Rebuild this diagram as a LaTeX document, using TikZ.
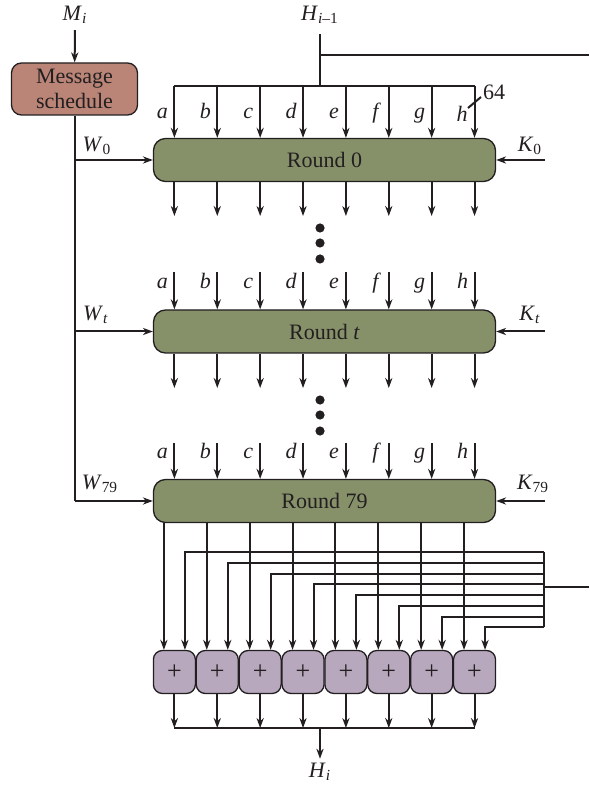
\documentclass[tikz,border=0pt]{standalone}
\usepackage{fontspec}
\setmainfont{Liberation Serif}
\usetikzlibrary{arrows.meta, positioning, calc}
\definecolor{schedfill}{RGB}{186,133,119}
\definecolor{roundfill}{RGB}{134,145,106}
\definecolor{addfill}{RGB}{183,168,189}
\definecolor{ink}{RGB}{35,31,32}
\newcommand{\vname}[2]{\textit{#1}\textsubscript{#2}}

\begin{document}
\begin{tikzpicture}[
        x=0.5pt, y=-0.5pt, ink, font=\fontsize{11}{12.5}\selectfont,
        schedule/.style={rectangle, rounded corners=5pt, draw, fill=schedfill, line width=0.65pt,
                         minimum width=63pt, minimum height=26pt, align=center, inner sep=0pt},
        roundbox/.style={rectangle, rounded corners=6pt, draw, fill=roundfill, line width=0.65pt,
                         minimum width=171pt, minimum height=21.5pt},
        adder/.style={rectangle, rounded corners=4.5pt, draw, fill=addfill, line width=0.65pt,
                      minimum width=21pt, minimum height=21.5pt, font=\fontsize{13}{14}\selectfont},
        wire/.style={line width=1pt},
        arrow/.style={wire, -{Stealth[length=5pt, width=3.6pt]}},
        lbl/.style={inner sep=0pt},
        dot/.style={circle, fill, inner sep=0pt, minimum size=4.6pt}
    ]
        \useasboundingbox (0,0) rectangle (589,785);

        % message schedule
        \node[lbl] (mi) at (75,15) {\vname{M}{\textit{i}}};
        \node[schedule] (ms) at (74.5,89) {Message\\schedule};
        \draw[arrow, shorten <=3pt] (mi) -- (ms);

        % rounds
        \node[roundbox] (r0) at (324.5,160) {Round 0};
        \node[roundbox] (rt) at (324.5,331.5) {Round \textit{t}};
        \node[roundbox] (r79) at (324.5,501) {Round 79};

        % words W_t
        \draw[wire] (ms.south) -- (ms.south |- r79.west);
        \draw[arrow] (ms.south |- r0.west) -- (r0.west);
        \draw[arrow] (ms.south |- rt.west) -- (rt.west);
        \draw[arrow] (ms.south |- r79.west) -- (r79.west);
        \node[lbl] (w0) at (97,146) {\vname{W}{0}};
        \node[lbl] (wt) at (96,315) {\vname{W}{\textit{t}}};
        \node[lbl] (w79) at (100,484) {\vname{W}{79}};

        % constants K_t
        \draw[arrow] ($(r0.east)+(49,0)$) -- (r0.east);
        \draw[arrow] ($(rt.east)+(49,0)$) -- (rt.east);
        \draw[arrow] ($(r79.east)+(49,0)$) -- (r79.east);
        \node[lbl] (k0) at (530,146) {\vname{K}{0}};
        \node[lbl] (kt) at (530,315) {\vname{K}{\textit{t}}};
        \node[lbl] (k79) at (533,484) {\vname{K}{79}};

        % chaining value in
        \node[lbl] (hin) at (320,15) {\vname{H}{\textit{i}\textup{--1}}};
        \coordinate (hsplit) at (320,55);
        \coordinate (hright) at (589,55);
        \coordinate (hbus) at (320,86);
        \draw[wire, shorten <=5pt] (hin) -- (hbus);
        \draw[wire] (hsplit) -- (hright);

        % adders
        \foreach \k in {1,...,8}{
            \pgfmathsetmacro{\cx}{174.4+42.875*(\k-1)}
            \node[adder] (add-\k) at (\cx,672) {+};
        }

        \foreach \k/\ch in {1/a,2/b,3/c,4/d,5/e,6/f,7/g,8/h}{
            \pgfmathsetmacro{\cx}{174.4+42.875*(\k-1)}
            % round 0
            \coordinate (bus-\k) at (\cx,86);
            \coordinate (o0-\k) at (\cx,216);
            \draw[arrow] (bus-\k) -- (bus-\k |- r0.north);
            \draw[arrow] (o0-\k |- r0.south) -- (o0-\k);
            % round t
            \coordinate (it-\k) at (\cx,272);
            \coordinate (ot-\k) at (\cx,388);
            \draw[arrow] (it-\k) -- (it-\k |- rt.north);
            \draw[arrow] (ot-\k |- rt.south) -- (ot-\k);
            \node[lbl, anchor=base] (lt-\k) at (\cx-12,289) {\textit{\ch}};
            % round 79
            \coordinate (i79-\k) at (\cx,443);
            \draw[arrow] (i79-\k) -- (i79-\k |- r79.north);
            \node[lbl, anchor=base] (l79-\k) at (\cx-12,458) {\textit{\ch}};
            \coordinate (o79-\k) at (\cx-10.5,522);
            \draw[arrow] (o79-\k |- r79.south) -- ($(add-\k.north)+(-10.5,0)$);
            % feedback
            \coordinate (fb-\k) at (544,{552+10.75*(\k-1)});
            \draw[arrow] (fb-\k) -| ($(add-\k.north)+(10.5,0)$);
        }
        \draw[wire] (bus-1) -- (bus-8);
        \foreach \k/\ch in {1/a,2/b,3/c,4/d,5/e,6/f,7/g}{
            \pgfmathsetmacro{\cx}{174.4+42.875*(\k-1)}
            \node[lbl, anchor=base] (l0-\k) at (\cx-12,119) {\textit{\ch}};
        }
        \node[lbl, anchor=base] (l0-8) at (462,122) {\textit{h}};
        \draw[wire] (468,108) -- (481,97);
        \node[lbl] (n64) at (494,92) {64};

        % dots between rounds
        \foreach \y [count=\i] in {228,243,259,400,415,431}
            \node[dot] (dot-\i) at (320,\y) {};

        % feedback bus
        \coordinate (fbin) at (544,587);
        \coordinate (fbright) at (589,587);
        \draw[wire] (fb-1) -- (fb-8);
        \draw[wire] (fbright) -- (fbin);

        % output
        \coordinate (obus) at (320,728);
        \node[lbl] (hout) at (320,772) {\vname{H}{\textit{i}}};
        \foreach \k in {1,...,8}
            \draw[arrow] (add-\k) -- (add-\k |- obus);
        \draw[wire] (add-1 |- obus) -- (add-8 |- obus);
        \draw[arrow, shorten >=2pt] (obus) -- (hout);
    \end{tikzpicture}
\end{document}
